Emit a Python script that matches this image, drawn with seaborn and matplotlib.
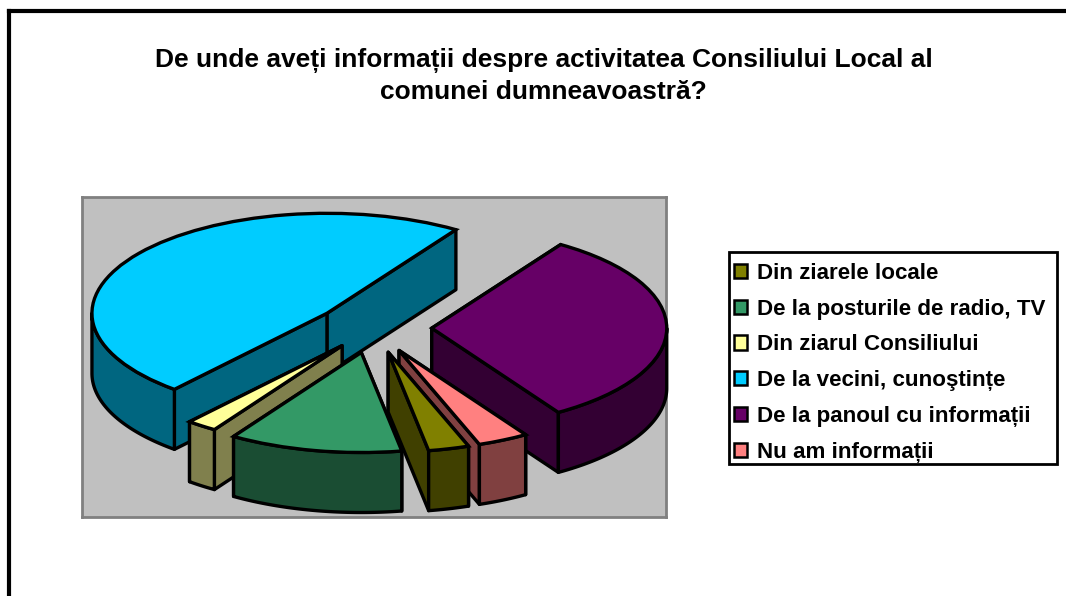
import numpy as np
import matplotlib
matplotlib.use("Agg")
import matplotlib.pyplot as plt
from matplotlib.lines import Line2D
from matplotlib.patches import Rectangle
import seaborn as sns

# share of answers, percent
labels = ["Din ziarele locale", "De la posturile de radio, TV", "Din ziarul Consiliului",
          "De la vecini, cunoştințe", "De la panoul cu informații", "Nu am informații"]
values = [2.8, 11.9, 2.1, 48.0, 31.7, 3.5]
colors = ["#808000", "#339966", "#FFFF99", "#00CCFF", "#660066", "#FF8080"]
title = "De unde aveți informații despre activitatea Consiliului Local al\ncomunei dumneavoastră?"

explode = [0.25, 0.25, 0.22, 0.245, 0.25, 0.25]
paint_order = [3, 4, 2, 1, 5, 0]  # back to front
depth = 0.6

sns.set_theme(style="white")
plt.rcParams["font.family"] = ["Liberation Sans", "DejaVu Sans"]
plt.rcParams["font.weight"] = "bold"

W, H = 1066, 596
fig = plt.figure(figsize=(W / 100, H / 100), dpi=100, facecolor="white")

# plot area, pixels 82..666 by 197..517
ax = fig.add_axes([82 / W, 1 - 517 / H, 584 / W, 320 / H], facecolor="#C0C0C0")

wedges, _ = ax.pie(values, explode=explode, colors=colors, startangle=-70, counterclock=False,
                   radius=1, frame=True,
                   wedgeprops=dict(edgecolor="black", linewidth=2.4, clip_on=False))

# squash the pie: one x unit is 235 px, one y unit is 100 px
ax.set_aspect("auto")
ax.set_xlim((82 - 373) / 235, (666 - 373) / 235)
ax.set_ylim((328 - 517) / 100, (328 - 197) / 100)
ax.set_xticks([])
ax.set_yticks([])
for s in ax.spines.values():
    s.set_color("#808080")
    s.set_linewidth(2)


def wall(xs, ys, col, z):
    px = np.concatenate([xs, xs[::-1]])
    py = np.concatenate([ys, ys[::-1] - depth])
    ax.fill(px, py, facecolor=col, edgecolor="black", linewidth=2.4, joinstyle="round", zorder=z,
            clip_on=False)


for rank, i in enumerate(paint_order):
    w = wedges[i]
    cx, cy = w.center
    dark = tuple(np.array(matplotlib.colors.to_rgb(colors[i])) * 0.5)
    z = 2 + rank
    w.set_zorder(z + 0.5)

    # flat sides, upper one first
    ends = sorted([w.theta1, w.theta2], key=lambda t: -np.sin(np.radians(t)))
    for k, t in enumerate(ends):
        a = np.radians(t)
        wall(np.array([cx, cx + np.cos(a)]), np.array([cy, cy + np.sin(a)]), dark, z + 0.1 + k * 0.1)

    # rim, only the part facing the viewer
    th = np.radians(np.linspace(w.theta1, w.theta2, 200))
    th = th[np.sin(th) <= 0]
    if len(th) > 1:
        wall(cx + np.cos(th), cy + np.sin(th), dark, z + 0.3)

leg = fig.legend(wedges, labels, loc="upper left", bbox_to_anchor=(728.5 / W, 1 - 257.5 / H),
                 bbox_transform=fig.transFigure, fontsize=16.1, frameon=False,
                 handlelength=0.6, handleheight=0.6, handletextpad=0.42, labelspacing=0.66,
                 borderpad=0.24, borderaxespad=0, labelcolor="black")
leg.set_zorder(5)
for h in leg.legend_handles:
    h.set_linewidth(1.8)

fig.add_artist(Rectangle((728.5 / W, 1 - 464 / H), 328 / W, 212 / H, transform=fig.transFigure,
                         facecolor="white", edgecolor="black", linewidth=2, zorder=4))

fig.text(543.5 / W, 1 - 76 / H, title, ha="center", va="center", fontsize=19, fontweight="bold",
         color="black", linespacing=1.34)

# chart frame, runs off the right and bottom of the image
fig.add_artist(Line2D([9 / W, 9 / W], [0, 1 - 11 / H], color="black", linewidth=3,
                      transform=fig.transFigure, solid_capstyle="projecting"))
fig.add_artist(Line2D([9 / W, 1], [1 - 11 / H, 1 - 11 / H], color="black", linewidth=3,
                      transform=fig.transFigure, solid_capstyle="projecting"))

fig.savefig("out.png", dpi=100)
